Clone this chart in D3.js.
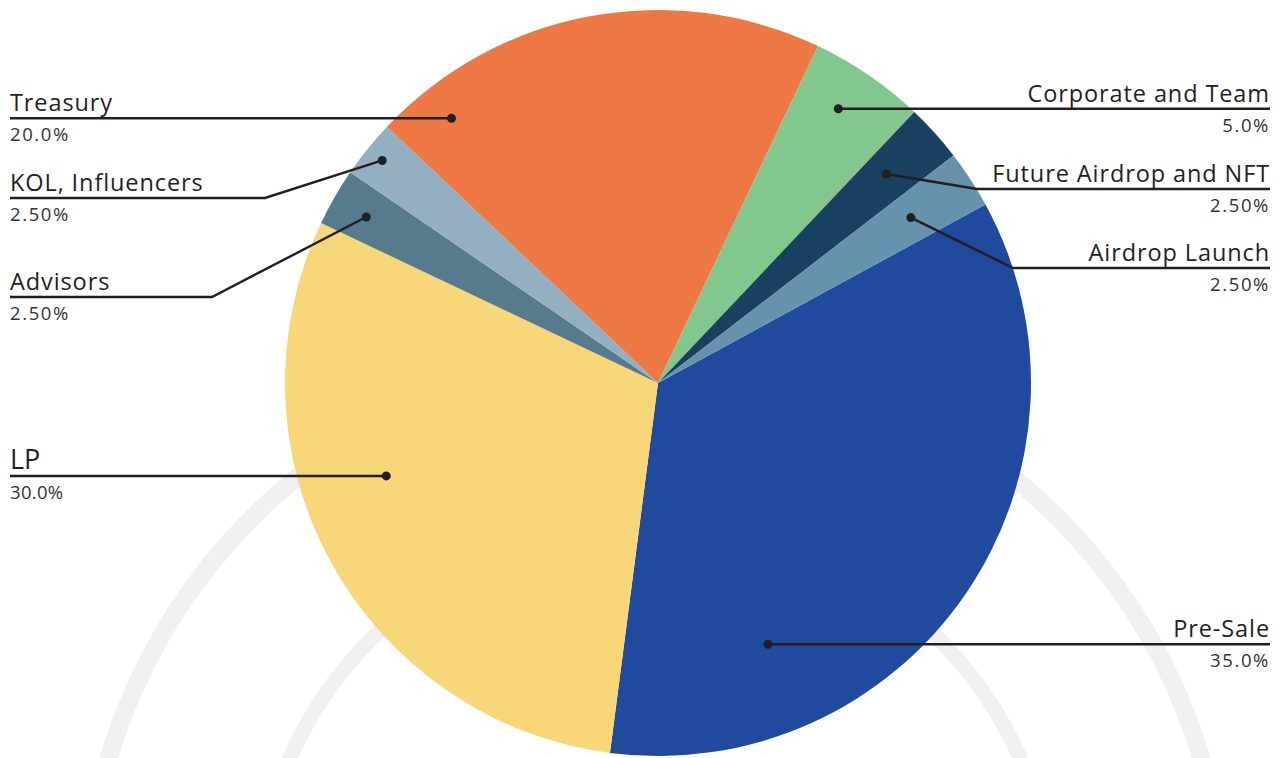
<!DOCTYPE html>
<html>
<head>
<meta charset="utf-8">
<script src="https://cdn.jsdelivr.net/npm/d3@7"></script>
<style>
  html, body { margin: 0; padding: 0; background: #fff; }
  svg { display: block; }
</style>
</head>
<body>
<div id="chart"></div>
<script>
// Data
const categories = ["Pre-Sale", "LP", "Advisors", "KOL, Influencers", "Treasury",
  "Corporate and Team", "Future Airdrop and NFT", "Airdrop Launch"];
const shares = [35, 30, 2.5, 2.5, 20, 5, 2.5, 2.5];
const shareLabels = ["35.0%", "30.0%", "2.50%", "2.50%", "20.0%", "5.0%", "2.50%", "2.50%"];
const colors = ["#1f4a9e", "#f7d778", "#567b8f", "#93afc2", "#ee7843",
  "#82c88e", "#18425f", "#6692ae"];

// callout layout: where the dot sits inside the slice, which side the label goes,
// and the y of the label rule (null = same as the dot)
const callouts = [
  { t: 0.76, r: 0.76, side: "right", lineY: null, elbowX: null },
  { t: 0.59, r: 0.77, side: "left",  lineY: null, elbowX: null },
  { t: 0.47, r: 0.90, side: "left",  lineY: 297, elbowX: 212 },
  { t: 0.50, r: 0.95, side: "left",  lineY: 198, elbowX: 265 },
  { t: 0.12, r: 0.90, side: "left",  lineY: null, elbowX: null },
  { t: 0.44, r: 0.88, side: "right", lineY: null, elbowX: null },
  { t: 0.46, r: 0.83, side: "right", lineY: 189, elbowX: 977 },
  { t: 0.49, r: 0.81, side: "right", lineY: 268, elbowX: 1013 }
];

const width = 1281, height = 758;
const cx = 658, cy = 383, radius = 373;
const leftX = 10, rightX = 1270;

const svg = d3.select("#chart").append("svg")
  .attr("width", width)
  .attr("height", height);

// faint seal watermark behind the pie
const mark = svg.append("g").attr("fill", "none").attr("stroke", "#f0f0f0");
mark.append("circle").attr("cx", 655).attr("cy", 921).attr("r", 570).attr("stroke-width", 18);
mark.append("circle").attr("cx", 655).attr("cy", 921).attr("r", 400).attr("stroke-width", 15);

const items = categories.map((name, i) => ({
  name, value: shares[i], label: shareLabels[i], color: colors[i], call: callouts[i]
}));

const pie = d3.pie()
  .sort(null)
  .value(d => d.value)
  .startAngle(61.4 * Math.PI / 180)
  .endAngle(61.4 * Math.PI / 180 + 2 * Math.PI);

const arc = d3.arc().innerRadius(0).outerRadius(radius);
const arcs = pie(items);

const g = svg.append("g").attr("transform", `translate(${cx},${cy})`);

g.selectAll("path")
  .data(arcs)
  .enter()
  .append("path")
  .attr("d", arc)
  .attr("fill", d => d.data.color);

// Callouts
const ink = "#231f20";
const fontFam = "'Open Sans', 'Noto Sans', sans-serif";

arcs.forEach(d => {
  const c = d.data.call;
  const a = d.startAngle + (d.endAngle - d.startAngle) * c.t;
  const rr = radius * c.r;
  const dx = cx + rr * Math.sin(a);
  const dy = cy - rr * Math.cos(a);
  const ly = c.lineY == null ? dy : c.lineY;
  const endX = c.side === "left" ? leftX : rightX;

  const pts = [[dx, dy]];
  if (c.elbowX != null) pts.push([c.elbowX, ly]);
  pts.push([endX, ly]);

  svg.append("path")
    .attr("d", d3.line()(pts))
    .attr("fill", "none")
    .attr("stroke", ink)
    .attr("stroke-width", 2.4);

  svg.append("circle")
    .attr("cx", dx)
    .attr("cy", dy)
    .attr("r", 4.5)
    .attr("fill", ink);

  const anchor = c.side === "left" ? "start" : "end";
  const isLP = d.data.name === "LP";

  svg.append("text")
    .attr("x", endX)
    .attr("y", ly - 7)
    .attr("text-anchor", anchor)
    .attr("fill", ink)
    .style("font-family", fontFam)
    .style("font-size", isLP ? "27px" : "23.5px")
    .style("letter-spacing", isLP ? "0px" : "0.9px")
    .text(d.data.name);

  svg.append("text")
    .attr("x", endX)
    .attr("y", ly + 23)
    .attr("text-anchor", anchor)
    .attr("fill", "#333")
    .style("font-family", fontFam)
    .style("font-size", "18.5px")
    .style("letter-spacing", isLP ? "0.3px" : "1.6px")
    .text(d.data.label);
});
</script>
</body>
</html>
